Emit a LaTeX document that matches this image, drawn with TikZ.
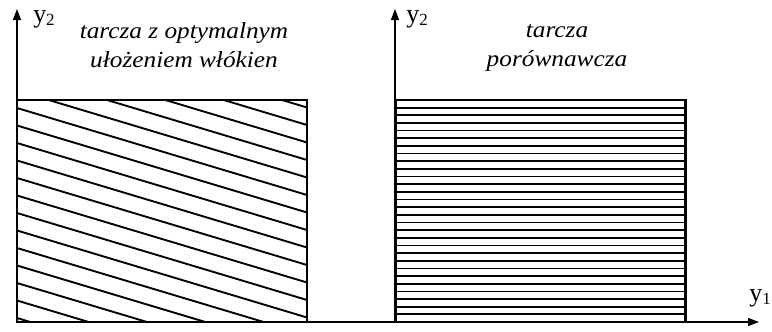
\documentclass[tikz,border=0pt]{standalone}
\usepackage{fontspec}
\setmainfont{Liberation Serif}
\usetikzlibrary{arrows.meta}
\newcommand{\wideline}[1]{\scalebox{1.1}[1]{#1}}
\newcommand{\axname}[2]{#1\raisebox{-0.25ex}{\fontsize{17}{17}\selectfont #2}}
\tikzset{
  plate/.style={draw, line width=2.8pt, minimum width=290pt, minimum height=222pt, inner sep=0pt},
  fibre/.style={line width=1.9pt},
  axis/.style={line width=1.2pt, -{Triangle[length=11pt,width=8pt]}},
  title/.style={font=\fontsize{23}{29}\selectfont\itshape, align=center},
  axlabel/.style={font=\fontsize{26}{26}\selectfont, inner sep=0pt}
}

\begin{document}
\begin{tikzpicture}[x=1pt, y=-1pt]
        \useasboundingbox (0,0) rectangle (772,332);
        \coordinate (o1) at (17,322);
        \coordinate (t1) at (17,9);
        \coordinate (o2) at (395,322);
        \coordinate (t2) at (395,9);
        \coordinate (e1) at (759,322);
        \begin{scope}
          \clip (17,100) rectangle (307,322);
          \foreach \k in {-5,...,12}
            \draw[fibre] (17,108+17.5*\k) -- (307,195+17.5*\k);
        \end{scope}
        \foreach \k in {1,...,28}
          \draw[fibre, line width=1.7pt] (395,100+222*\k/29) -- (686,100+222*\k/29);
        \node[plate] (left) at (162,211) {};
        \node[plate] (right) at (540.5,211) {};
        \draw[axis] (o1) -- (t1);
        \draw[axis] (o2) -- (t2);
        \draw[axis] (o1) -- (e1);
        \node[axlabel] (y2a) at (44,19) {\axname{y}{2}};
        \node[axlabel] (y2b) at (417,19) {\axname{y}{2}};
        \node[axlabel] (y1) at (760,298) {\axname{y}{1}};
        \node[title] (opt) at (184,45) {\wideline{tarcza z optymalnym}\\\wideline{ułożeniem włókien}};
        \node[title] (ref) at (557,48) {\wideline{tarcza}\\\wideline{porównawcza}};
      \end{tikzpicture}
\end{document}
